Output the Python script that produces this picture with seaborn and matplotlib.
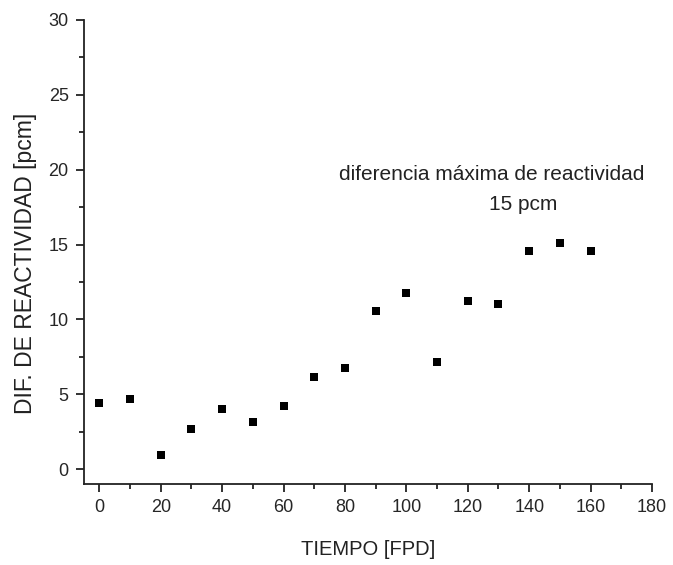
import numpy as np
import pandas as pd
import matplotlib
matplotlib.use("Agg")
import matplotlib.pyplot as plt
from matplotlib.ticker import MultipleLocator
import seaborn as sns

# valores
tiempo = [0, 10, 20, 30, 40, 50, 60, 70, 80, 90, 100, 110, 120, 130, 140, 150, 160]
dif_reactividad = [4.4, 4.65, 0.95, 2.65, 4.0, 3.15, 4.2, 6.15, 6.75, 10.55, 11.75,
                   7.15, 11.25, 11.05, 14.6, 15.1, 14.6]

sns.set_style("ticks")
plt.rcParams['font.family'] = ['Liberation Sans', 'DejaVu Sans']

df = pd.DataFrame({'TIEMPO': tiempo, 'DIF': dif_reactividad})

fig = plt.figure(figsize=(6.73, 5.65), dpi=100)
ax = fig.add_axes([84 / 673, 1 - 484 / 565, (652 - 84) / 673, (484 - 20) / 565])

sns.scatterplot(x='TIEMPO', y='DIF', data=df, marker='s', color='black',
                s=32, linewidth=0, ax=ax)

ax.set_xlim(-5, 180)
ax.set_ylim(-1, 30)
ax.xaxis.set_major_locator(MultipleLocator(20))
ax.xaxis.set_minor_locator(MultipleLocator(10))
ax.yaxis.set_major_locator(MultipleLocator(5))
ax.yaxis.set_minor_locator(MultipleLocator(2.5))

for side in ['top', 'right']:
    ax.spines[side].set_visible(False)
for side in ['left', 'bottom']:
    ax.spines[side].set_linewidth(1.3)
    ax.spines[side].set_color('#222222')

ax.tick_params(which='major', length=6, width=1.3, labelsize=13, pad=5, color='#222222')
ax.tick_params(which='minor', length=3.5, width=1.3, color='#222222')

ax.set_xlabel('TIEMPO [FPD]', fontsize=14.5, color='#222222')
ax.set_ylabel('DIF. DE REACTIVIDAD [pcm]', fontsize=16.5, color='#222222')
ax.xaxis.set_label_coords(0.5, -0.121)
ax.yaxis.set_label_coords(-0.083, 0.476)

ax.text(127.8, 19.66, 'diferencia máxima de reactividad', fontsize=15,
        ha='center', va='center', color='#222222')
ax.text(138, 17.7, '15 pcm', fontsize=15, ha='center', va='center', color='#222222')

plt.savefig('out.png', dpi=100)
